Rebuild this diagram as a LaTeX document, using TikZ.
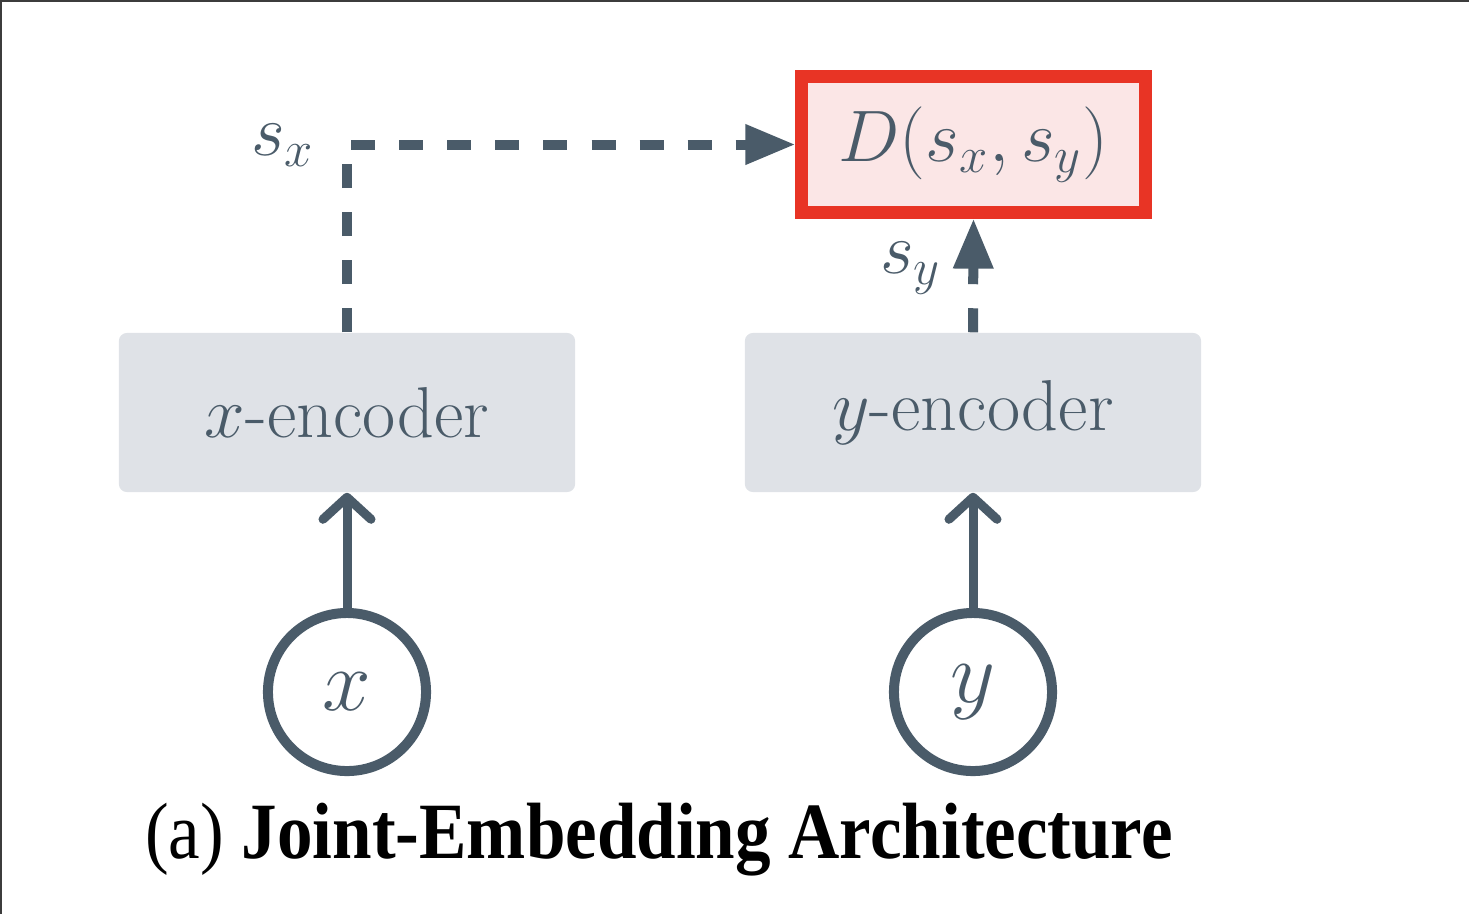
\documentclass[tikz,border=0pt]{standalone}
\usepackage{fontspec}
\newfontfamily\capfont{Liberation Serif}
\usetikzlibrary{arrows.meta}
\definecolor{slate}{RGB}{74,91,105}
\definecolor{redline}{RGB}{232,52,37}
\definecolor{pinkfill}{RGB}{251,230,230}
\definecolor{encfill}{RGB}{223,226,231}
\definecolor{frame}{RGB}{60,60,60}

\begin{document}
\begin{tikzpicture}[x=0.01cm, y=-0.01cm,
  txt/.style={text=slate, font=\fontsize{20.5}{24}\selectfont},
  encoder/.style={txt, fill=encfill, rounded corners=0.08cm, minimum width=4.56cm, minimum height=1.59cm, inner sep=0pt},
  dist/.style={txt, font=\fontsize{19.5}{23}\selectfont, draw=redline, fill=pinkfill, line width=0.13cm, minimum width=3.43cm, minimum height=1.35cm, inner sep=0pt},
  var/.style={txt, font=\fontsize{25}{29}\selectfont, circle, draw=slate, line width=0.1cm, minimum size=1.58cm, inner sep=0pt},
  dasharrow/.style={slate, line width=0.1cm, dash pattern=on 0.24cm off 0.24cm, -{Triangle[length=0.5cm, width=0.38cm]}},
  solidarrow/.style={slate, line width=0.09cm, -{Straight Barb[length=0.22cm, width=0.48cm, round]}}]
%		\draw[help lines] (0,0) grid (3,3);
\useasboundingbox (0,0) rectangle (1469,914);
\draw[frame, line width=0.02cm] (0,1) -- (1469,1);
\draw[frame, line width=0.02cm] (1,0) -- (1,914);
\node[encoder] (xenc) at (347,412.5) {$x$-encoder};
\node[encoder] (yenc) at (973,412.5) {$y$-encoder};
\node[dist] (dist) at (973.5,144.5) {$D(s_x,s_y)$};
\node[var] (x) at (347,692) {$x$};
\node[var] (y) at (973,692) {$y$};
\node[txt] (sx) at (283,145) {$s_x$};
\node[txt] (sy) at (911,268) {$s_y$};
\node[font=\capfont\fontsize{22.7}{27}\selectfont] (caption) at (659,840) {\scalebox{0.89}[1]{(a) \textbf{Joint-Embedding Architecture}}};
\draw[solidarrow] (x) -- (xenc);
\draw[solidarrow] (y) -- (yenc);
\draw[dasharrow] (xenc.north) |- (dist.west);
\draw[dasharrow] (yenc.north) -- (dist.south);
\end{tikzpicture}
\end{document}
